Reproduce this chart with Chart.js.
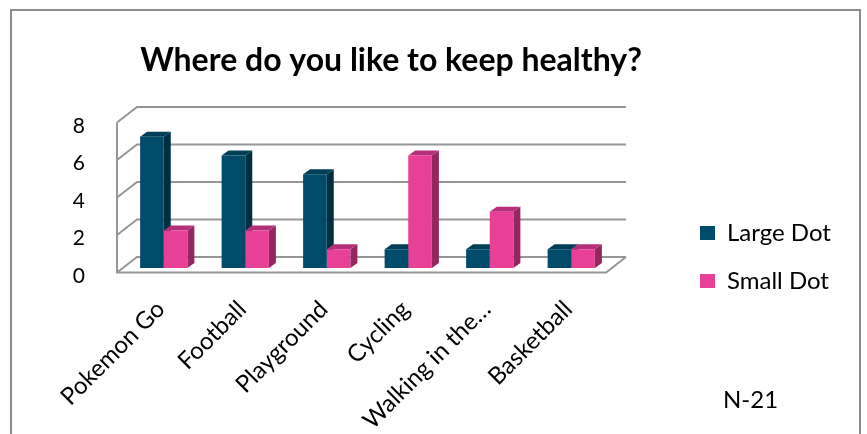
<!DOCTYPE html>
<html>
<head>
<meta charset="utf-8">
<script src="https://cdn.jsdelivr.net/npm/chart.js@4.4.0/dist/chart.umd.min.js"></script>
<style>
  html, body { margin: 0; padding: 0; background: #fff; overflow: hidden; }
  #wrap { position: relative; width: 867px; height: 434px; }
  /* thin grey frame round the chart, like the office chart border */
  #frame { position: absolute; left: 10px; top: 9px; width: 851px; height: 470px;
           border: 2px solid #8c8c8c; box-sizing: border-box; pointer-events: none; }
</style>
</head>
<body>
<div id="wrap">
  <canvas id="chart" width="867" height="434"></canvas>
  <div id="frame"></div>
</div>
<script>
  // --- data ---
  const chartTitle = 'Where do you like to keep healthy?';
  const sampleNote = 'N-21';
  const categories = ['Pokemon Go', 'Football', 'Playground', 'Cycling', 'Walking in the…', 'Basketball'];
  const seriesNames = ['Large Dot', 'Small Dot'];
  const largeDot = [7, 6, 5, 1, 1, 1];
  const smallDot = [2, 2, 1, 6, 3, 1];
  const yTicks = [0, 2, 4, 6, 8];

  // 3D look: offsets of the bar depth and of the walls, relative to the bar plane
  const DEPTH = { x: 7, y: -5 };
  const FRONT = { x: -6, y: 4.5 };
  const BACK = { x: 14, y: -11 };

  Chart.defaults.font.family = 'Lato, "Open Sans", sans-serif';
  Chart.defaults.color = '#000';

  function poly(ctx, pts, fill){
    ctx.beginPath();
    ctx.moveTo(pts[0][0], pts[0][1]);
    for (let i = 1; i < pts.length; i++) ctx.lineTo(pts[i][0], pts[i][1]);
    ctx.closePath();
    ctx.fillStyle = fill;
    ctx.fill();
  }

  // draws the back wall, the left wall, the floor and the top/side faces of every bar
  const box3d = {
    id: 'box3d',
    beforeDatasetsDraw(chart){
      const { ctx, chartArea: a, scales: { y } } = chart;
      const fl = a.left + FRONT.x, fr = a.right + FRONT.x;
      const bl = a.left + BACK.x, br = a.right + BACK.x;
      const zero = y.getPixelForValue(y.min), top = y.getPixelForValue(y.max);

      ctx.save();
      ctx.strokeStyle = '#969696';
      ctx.lineWidth = 2;
      y.ticks.forEach(t => {
        const py = y.getPixelForValue(t.value);
        ctx.beginPath();
        ctx.moveTo(fl, py + FRONT.y);
        ctx.lineTo(bl, py + BACK.y);
        ctx.lineTo(br, py + BACK.y);
        ctx.stroke();
      });
      ctx.beginPath();
      ctx.moveTo(fl, top + FRONT.y);
      ctx.lineTo(fl, zero + FRONT.y);
      ctx.lineTo(fr, zero + FRONT.y);
      ctx.lineTo(br, zero + BACK.y);
      ctx.stroke();

      // top and side faces first; the library then paints the front faces over them
      const n = categories.length;
      for (let i = 0; i < n; i++){
        chart.data.datasets.forEach((ds, d) => {
          const bar = chart.getDatasetMeta(d).data[i];
          if (!bar) return;
          const p = bar.getProps(['x', 'y', 'base', 'width'], true);
          const x0 = p.x - p.width / 2, x1 = p.x + p.width / 2;
          poly(ctx, [[x1, p.y], [x1 + DEPTH.x, p.y + DEPTH.y], [x1 + DEPTH.x, p.base + DEPTH.y], [x1, p.base]], ds.sideColor);
          poly(ctx, [[x0, p.y], [x0 + DEPTH.x, p.y + DEPTH.y], [x1 + DEPTH.x, p.y + DEPTH.y], [x1, p.y]], ds.topColor);
        });
      }
      ctx.restore();
    },
    afterDraw(chart){
      const ctx = chart.ctx;
      ctx.save();
      ctx.fillStyle = '#000';
      ctx.font = 'bold 32px Lato, "Open Sans", sans-serif';
      ctx.textAlign = 'center';
      ctx.textBaseline = 'alphabetic';
      ctx.fillText(chartTitle, 391, 71);
      ctx.font = '24px Lato, "Open Sans", sans-serif';
      ctx.textAlign = 'left';
      ctx.textBaseline = 'middle';
      ctx.fillText(sampleNote, 723, 400);
      ctx.restore();
    }
  };

  // empty scales used only to keep room round the plot
  const spacer = (position, size) => ({
    type: 'linear', position, display: true,
    grid: { display: false }, border: { display: false }, ticks: { display: false },
    afterFit(s){ if (s.isHorizontal()) s.height = size; else s.width = size; }
  });

  const canvas = document.getElementById('chart');
  new Chart(canvas.getContext('2d'), {
    type: 'bar',
    data: {
      labels: categories,
      datasets: [
        { label: seriesNames[0], data: largeDot, backgroundColor: '#014B6A',
          topColor: '#013F59', sideColor: '#012F42', borderWidth: 0 },
        { label: seriesNames[1], data: smallDot, backgroundColor: '#E83F97',
          topColor: '#B5307B', sideColor: '#942660', borderWidth: 0 }
      ]
    },
    options: {
      responsive: false,
      maintainAspectRatio: false,
      animation: false,
      devicePixelRatio: 1,
      events: [],
      layout: { padding: { left: 0, top: 80, right: 31, bottom: 0 } },
      datasets: { bar: { categoryPercentage: 0.58, barPercentage: 1 } },
      scales: {
        x: {
          grid: { display: false },
          border: { display: false },
          ticks: { autoSkip: false, minRotation: 45, maxRotation: 45, padding: 19, labelOffset: -3,
                   font: { size: 24 } },
          afterFit(s){ s.height = 166; }
        },
        y: {
          min: yTicks[0],
          max: yTicks[yTicks.length - 1],
          grid: { display: false },
          border: { display: false },
          ticks: { stepSize: yTicks[1] - yTicks[0], padding: 30, labelOffset: 8, font: { size: 21 } },
          afterFit(s){ s.width = 123; }
        },
        gapTop: spacer('top', 38),
        gapRight: spacer('right', 64)
      },
      plugins: {
        title: { display: false },
        tooltip: { enabled: false },
        legend: {
          position: 'right',
          maxWidth: 160,
          labels: { boxWidth: 15, boxHeight: 14, padding: 24, color: '#000', font: { size: 24 } }
        }
      }
    },
    plugins: [box3d]
  });
</script>
</body>
</html>
